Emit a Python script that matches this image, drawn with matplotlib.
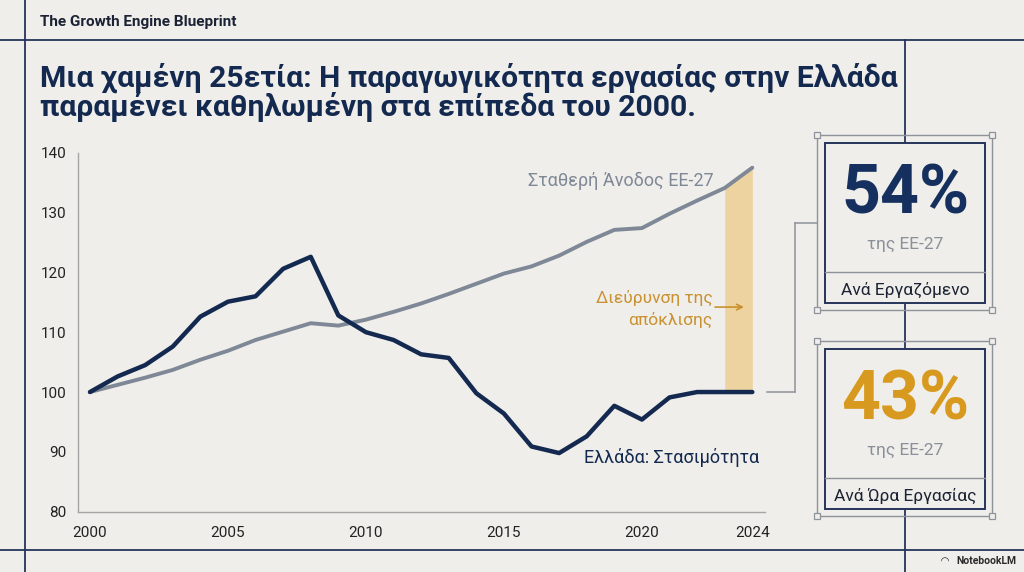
import matplotlib
matplotlib.use("Agg")
import matplotlib.pyplot as plt
from matplotlib.lines import Line2D
from matplotlib.patches import Rectangle

plt.rcParams['font.family'] = ['Roboto', 'DejaVu Sans']

# ---------------- data ----------------
years = list(range(2000, 2025))
greece = [100, 102.6, 104.5, 107.6, 112.6, 115.1, 116.0, 120.6, 122.6, 112.8,
          110.0, 108.7, 106.3, 105.7, 99.8, 96.4, 90.9, 89.8, 92.6, 97.7,
          95.4, 99.1, 100.0, 100.0, 100.0]
eu27 = [100, 101.2, 102.4, 103.7, 105.4, 106.9, 108.7, 110.1, 111.5, 111.1,
        112.1, 113.4, 114.8, 116.4, 118.1, 119.8, 121.0, 122.8, 125.1, 127.1,
        127.4, 129.8, 132.0, 134.1, 137.5]
gap_years = [2023, 2024]
x_ticks = [2000, 2005, 2010, 2015, 2020, 2024]
y_ticks = [80, 90, 100, 110, 120, 130, 140]
kpi_values = ["54%", "43%"]
kpi_sub = ["της ΕΕ-27", "της ΕΕ-27"]
kpi_labels = ["Ανά Εργαζόμενο", "Ανά Ώρα Εργασίας"]

# ---------------- style ----------------
BG = "#EFEEEA"
NAVY = "#13294F"
GREY = "#7E8896"
GOLD_TXT = "#C9912F"
GOLD = "#D8991F"
BAND = "#EDD3A0"
FRAME = "#25345A"
W, H = 1024, 572

fig = plt.figure(figsize=(W / 100, H / 100), dpi=100, facecolor=BG)

def fx(x):
    return x / W

def fy(y):
    return 1 - y / H

def hline(x0, x1, y, color=FRAME, lw=1.3, z=1):
    fig.add_artist(Line2D([fx(x0), fx(x1)], [fy(y), fy(y)], color=color, lw=lw, zorder=z))

def vline(x, y0, y1, color=FRAME, lw=1.3, z=1):
    fig.add_artist(Line2D([fx(x), fx(x)], [fy(y0), fy(y1)], color=color, lw=lw, zorder=z))

# frame lines
hline(0, W, 40)
hline(0, W, 550)
vline(25, 0, H)
vline(905, 40, H)

# header texts
fig.text(fx(40), fy(22), "The Growth Engine Blueprint", fontsize=11, fontweight='bold',
         color="#1B2233", ha='left', va='center')
fig.text(fx(40), fy(78), "Μια χαμένη 25ετία: Η παραγωγικότητα εργασίας στην Ελλάδα",
         fontsize=21.7, fontweight='bold', color=NAVY, ha='left', va='center')
fig.text(fx(40), fy(107), "παραμένει καθηλωμένη στα επίπεδα του 2000.",
         fontsize=21.7, fontweight='bold', color=NAVY, ha='left', va='center')

# ---------------- chart ----------------
ax_l, ax_r, ax_t, ax_b = 77.7, 765, 152.7, 511.7
ax = fig.add_axes([fx(ax_l), fy(ax_b), fx(ax_r - ax_l), (ax_b - ax_t) / H])
ax.set_facecolor('none')
ax.set_xlim(1999.555, 2024.46)
ax.set_ylim(80, 140)
for s in ['top', 'right']:
    ax.spines[s].set_visible(False)
for s in ['left', 'bottom']:
    ax.spines[s].set_color("#A5A5A5")
    ax.spines[s].set_linewidth(1.0)
ax.set_xticks(x_ticks)
ax.set_yticks(y_ticks)
ax.tick_params(length=0, labelsize=11, colors="#222222", pad=8)
ax.tick_params(axis='x', pad=10)

gi = [years.index(y) for y in gap_years]
ax.fill_between(gap_years, [greece[i] for i in gi], [eu27[i] for i in gi],
                color=BAND, lw=0, zorder=1)
ax.plot(years, eu27, color=GREY, lw=2.8, solid_capstyle='round', solid_joinstyle='round', zorder=2)
ax.plot(years, greece, color=NAVY, lw=3.2, solid_capstyle='round', solid_joinstyle='round', zorder=3)

ax.text(2022.6, 135.3, "Σταθερή Άνοδος ΕΕ-27", fontsize=13, color=GREY, ha='right', va='center')
ax.text(2017.9, 89.0, "Ελλάδα: Στασιμότητα", fontsize=13, color=NAVY, ha='left', va='center')
ax.text(2022.55, 113.9, "Διεύρυνση της\nαπόκλισης", fontsize=12.5, color=GOLD_TXT,
        ha='right', va='center', linespacing=1.4)
ax.annotate("", xy=(2023.8, 114.2), xytext=(2022.55, 114.2),
            arrowprops=dict(arrowstyle='->', color=GOLD_TXT, lw=1.2))

# connector
CON = "#8E939B"
hline(767, 795, 392, color=CON, lw=1.1)
vline(795, 392, 223, color=CON, lw=1.1)
hline(795, 817, 223, color=CON, lw=1.1)

# ---------------- KPI boxes ----------------
def kpi_box(top, value, vcolor, sub, label):
    fig.add_artist(Rectangle((fx(817), fy(top + 175)), fx(175), 175 / H, fill=False,
                             ec="#8E939B", lw=1.0, zorder=3))
    fig.add_artist(Rectangle((fx(825), fy(top + 168)), fx(160), 160 / H, fc=BG,
                             ec=FRAME, lw=1.4, zorder=4))
    hline(825, 985, top + 137, color="#8E939B", lw=1.0, z=5)
    for (cx, cy) in [(817, top), (992, top), (817, top + 175), (992, top + 175)]:
        fig.add_artist(Rectangle((fx(cx - 3), fy(cy + 3)), fx(6), 6 / H, fc=BG,
                                 ec="#8E939B", lw=0.9, zorder=6))
    fig.text(fx(905), fy(top + 60), value, fontsize=49, fontweight='bold', color=vcolor,
             ha='center', va='center', zorder=7)
    fig.text(fx(905), fy(top + 109), sub, fontsize=12.5, color="#8A909A",
             ha='center', va='center', zorder=7)
    fig.text(fx(905), fy(top + 155), label, fontsize=12.5, color="#1B2233",
             ha='center', va='center', zorder=7)

kpi_box(135, kpi_values[0], "#15305E", kpi_sub[0], kpi_labels[0])
kpi_box(341, kpi_values[1], GOLD, kpi_sub[1], kpi_labels[1])

# footer
fig.text(fx(1016), fy(561), "NotebookLM", fontsize=7.5, fontweight='bold', color="#2A2A2A",
         ha='right', va='center')
fig.text(fx(945), fy(561), "◠", fontsize=7.5, fontweight='bold', color="#2A2A2A",
         ha='center', va='center', family=['DejaVu Sans'])

fig.savefig("out.png", dpi=100, facecolor=BG)
